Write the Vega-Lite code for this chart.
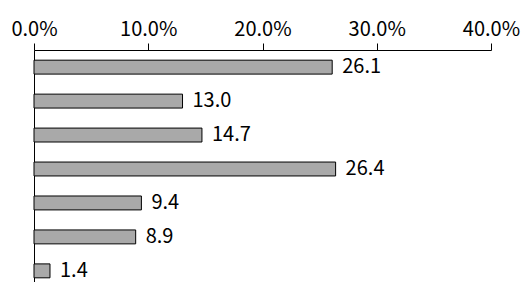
{
  "$schema": "https://vega.github.io/schema/vega-lite/v6.json",
  "width": 457,
  "height": 238,
  "autosize": "none",
  "padding": {"left": 34, "top": 50, "right": 31, "bottom": 0},
  "background": "white",
  "data": {"values": [
    {"item": "A", "value": 26.1},
    {"item": "B", "value": 13.0},
    {"item": "C", "value": 14.7},
    {"item": "D", "value": 26.4},
    {"item": "E", "value": 9.4},
    {"item": "F", "value": 8.9},
    {"item": "G", "value": 1.4}
  ]},
  "transform": [{"calculate": "datum.value / 100", "as": "share"}],
  "encoding": {
    "y": {"field": "item", "type": "nominal", "sort": null,
      "scale": {"paddingInner": 0.59, "paddingOuter": 0.3},
      "axis": {"title": null, "labels": false, "ticks": false, "domainColor": "#000", "domainWidth": 1}},
    "x": {"field": "share", "type": "quantitative",
      "scale": {"domain": [0, 0.4], "nice": false},
      "axis": {"orient": "top", "title": null, "format": ".1%", "values": [0, 0.1, 0.2, 0.3, 0.4],
        "grid": false, "tickSize": 7, "tickColor": "#000", "domainColor": "#000",
        "labelFont": "Noto Sans CJK JP", "labelFontSize": 20, "labelColor": "#000", "labelPadding": 4, "labelFlush": false}}
  },
  "layer": [
    {"mark": {"type": "bar", "fill": "#a9a9a9", "stroke": "#000", "strokeWidth": 1}},
    {"mark": {"type": "text", "align": "left", "baseline": "middle", "dx": 10, "font": "Noto Sans CJK JP", "fontSize": 20, "color": "#000"},
     "encoding": {"text": {"field": "value", "type": "quantitative", "format": ".1f"}}}
  ],
  "config": {"view": {"stroke": null}}
}
